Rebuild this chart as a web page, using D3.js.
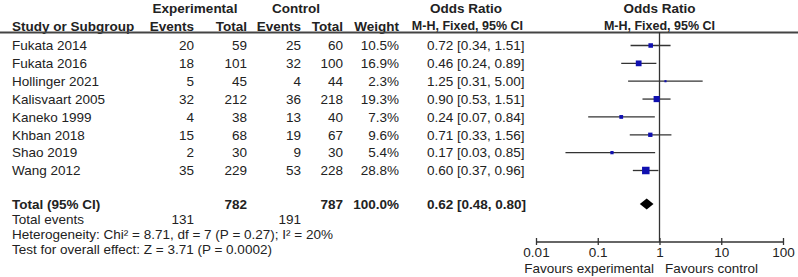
<!DOCTYPE html>
<html lang="en">

<head>
    <title>Forest plot</title>
    <meta charset="UTF-8">
    <script src="https://d3js.org/d3.v7.min.js"></script>
    <style>
        body {
            margin: 0;
            background: #fff;
        }

        svg text {
            font-family: 'Liberation Sans', Arial, sans-serif;
            font-size: 13.5px;
            fill: #222;
        }

        .bold {
            font-weight: bold;
        }

        .narrow {
            font-size: 12.5px;
        }
    </style>
</head>

<body>
<script>
    var studies = ["Fukata 2014", "Fukata 2016", "Hollinger 2021", "Kalisvaart 2005",
        "Kaneko 1999", "Khban 2018", "Shao 2019", "Wang 2012"];
    var expEvents = [20, 18, 5, 32, 4, 15, 2, 35];
    var expTotal = [59, 101, 45, 212, 38, 68, 30, 229];
    var ctrlEvents = [25, 32, 4, 36, 13, 19, 9, 53];
    var ctrlTotal = [60, 100, 44, 218, 40, 67, 30, 228];
    var weights = [10.5, 16.9, 2.3, 19.3, 7.3, 9.6, 5.4, 28.8];
    var oddsRatio = [0.72, 0.46, 1.25, 0.90, 0.24, 0.71, 0.17, 0.60];
    var ciLow = [0.34, 0.24, 0.31, 0.53, 0.07, 0.33, 0.03, 0.37];
    var ciHigh = [1.51, 0.89, 5.00, 1.51, 0.84, 1.56, 0.85, 0.96];

    var total = { exp: 782, ctrl: 787, expEvents: 131, ctrlEvents: 191, weight: "100.0%",
        or: 0.62, lo: 0.48, hi: 0.80 };
    var axisTicks = [0.01, 0.1, 1, 10, 100];
    var heterogeneity = "Heterogeneity: Chi\u00b2 = 8.71, df = 7 (P = 0.27); I\u00b2 = 20%";
    var overallTest = "Test for overall effect: Z = 3.71 (P = 0.0002)";

    var width = 798,
        height = 277;

    var svg = d3.select("body")
        .append("svg")
        .attr("width", width)
        .attr("height", height);

    var fmt = d3.format(".2f");

    // rows
    var y = d3.scaleLinear()
        .domain([0, studies.length - 1])
        .range([45.5, 170.5]);

    var yTotal = 204,
        yAxis = 242;

    // log scale for odds ratio
    var x = d3.scaleLog()
        .domain([0.01, 100])
        .range([536, 783]);

    var size = d3.scaleSqrt()
        .domain([0, 28.8])
        .range([0, 7.5]);

    // columns (right edges, except study + OR text)
    var col = { study: 12, expE: 194, expT: 247, ctlE: 301, ctlT: 343, w: 399, or: 427 };

    function txt(xp, yp, s, anchor, cls) {
        return svg.append("text")
            .attr("x", xp)
            .attr("y", yp)
            .attr("dy", "0.35em")
            .attr("text-anchor", anchor || "start")
            .attr("class", cls || null)
            .text(s);
    }

    // headers
    txt(195, 8, "Experimental", "middle", "bold");
    txt(296, 8, "Control", "middle", "bold");
    txt(466, 8, "Odds Ratio", "middle", "bold");
    txt(x(1), 8, "Odds Ratio", "middle", "bold");
    txt(col.study, 26, "Study or Subgroup", "start", "bold");
    txt(col.expE, 26, "Events", "end", "bold");
    txt(col.expT, 26, "Total", "end", "bold");
    txt(col.ctlE, 26, "Events", "end", "bold");
    txt(col.ctlT, 26, "Total", "end", "bold");
    txt(col.w, 26, "Weight", "end", "bold");
    txt(523, 26, "M-H, Fixed, 95% CI", "end", "bold narrow");
    txt(x(1), 26, "M-H, Fixed, 95% CI", "middle", "bold narrow");

    svg.append("line")
        .attr("x1", 0).attr("x2", width)
        .attr("y1", 32.5).attr("y2", 32.5)
        .attr("stroke", "#444")
        .attr("stroke-width", 2);

    // study rows
    studies.forEach(function(s, i) {
        var yy = y(i);
        txt(col.study, yy, s);
        txt(col.expE, yy, expEvents[i], "end");
        txt(col.expT, yy, expTotal[i], "end");
        txt(col.ctlE, yy, ctrlEvents[i], "end");
        txt(col.ctlT, yy, ctrlTotal[i], "end");
        txt(col.w, yy, weights[i].toFixed(1) + "%", "end");
        txt(col.or, yy, fmt(oddsRatio[i]) + " [" + fmt(ciLow[i]) + ", " + fmt(ciHigh[i]) + "]");
    });

    // line of no effect
    svg.append("line")
        .attr("x1", x(1)).attr("x2", x(1))
        .attr("y1", 32).attr("y2", yAxis)
        .attr("stroke", "#333")
        .attr("stroke-width", 1.3);

    // confidence intervals
    svg.selectAll(".ci")
        .data(studies)
        .enter().append("line")
        .attr("class", "ci")
        .attr("x1", function(d, i) { return x(ciLow[i]); })
        .attr("x2", function(d, i) { return x(ciHigh[i]); })
        .attr("y1", function(d, i) { return y(i); })
        .attr("y2", function(d, i) { return y(i); })
        .attr("stroke", "#333")
        .attr("stroke-width", 1.3);

    svg.selectAll(".pt")
        .data(studies)
        .enter().append("rect")
        .attr("class", "pt")
        .attr("x", function(d, i) { return x(oddsRatio[i]) - size(weights[i]) / 2; })
        .attr("y", function(d, i) { return y(i) - size(weights[i]) / 2; })
        .attr("width", function(d, i) { return size(weights[i]); })
        .attr("height", function(d, i) { return size(weights[i]); })
        .attr("fill", "#1010b0");

    // total row
    txt(col.study, yTotal, "Total (95% CI)", "start", "bold");
    txt(col.expT, yTotal, total.exp, "end", "bold");
    txt(col.ctlT, yTotal, total.ctrl, "end", "bold");
    txt(col.w, yTotal, total.weight, "end", "bold");
    txt(col.or, yTotal, fmt(total.or) + " [" + fmt(total.lo) + ", " + fmt(total.hi) + "]", "start", "bold");

    var dh = 5.5;
    svg.append("path")
        .attr("d", "M" + x(total.lo) + "," + yTotal +
            "L" + x(total.or) + "," + (yTotal - dh) +
            "L" + x(total.hi) + "," + yTotal +
            "L" + x(total.or) + "," + (yTotal + dh) + "Z")
        .attr("fill", "#000");

    txt(col.study, 219.5, "Total events");
    txt(col.expE, 219.5, total.expEvents, "end");
    txt(col.ctlE, 219.5, total.ctrlEvents, "end");
    txt(col.study, 234.5, heterogeneity);
    txt(col.study, 249.5, overallTest);

    // axis
    var axis = d3.axisBottom(x)
        .tickValues(axisTicks)
        .tickFormat(function(d) { return String(d); })
        .tickSize(4);

    var gAxis = svg.append("g")
        .attr("transform", "translate(0," + yAxis + ")")
        .call(axis);

    gAxis.select(".domain")
        .attr("d", "M" + x(0.01) + ",0H" + x(100))
        .attr("stroke", "#333")
        .attr("stroke-width", 1.5);
    gAxis.selectAll(".tick line")
        .attr("y1", -4)
        .attr("y2", 3)
        .attr("stroke", "#333")
        .attr("stroke-width", 1.3);
    gAxis.selectAll(".tick text")
        .attr("y", 5)
        .attr("dy", "0.71em")
        .style("font-size", "13.5px")
        .style("font-family", "'Liberation Sans', Arial, sans-serif")
        .attr("fill", "#222");

    txt(654, 268, "Favours experimental", "end");
    txt(665, 268, "Favours control", "start");
</script>
</body>

</html>
